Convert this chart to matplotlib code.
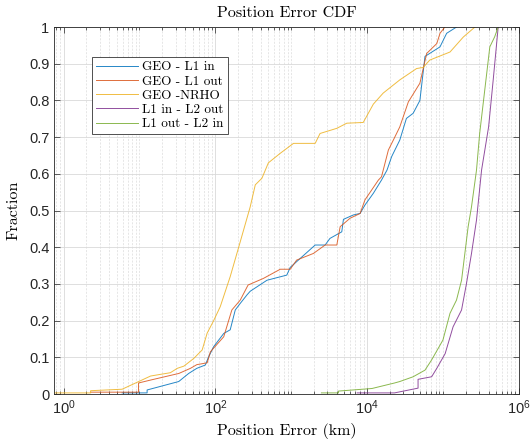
import matplotlib
matplotlib.use("Agg")
import matplotlib.pyplot as plt
from matplotlib.ticker import LogLocator, FixedLocator, NullFormatter
import numpy as np

# courbes CDF (erreur en km, fraction)
geo_l1in_x = [5.9, 12.6, 12.6, 32.9, 44.5, 57, 73.8, 81, 95, 129, 157, 183, 213, 261,
              288, 479, 874, 970, 2069, 2800, 3240, 4640, 4880, 6610, 8090, 9380, 12100,
              15500, 18300, 21100, 27000, 33000, 40500, 49700, 58000, 91500, 112000, 151000]
geo_l1in_y = [0.003, 0.003, 0.011, 0.034, 0.056, 0.07, 0.079, 0.10, 0.129, 0.165, 0.175,
              0.229, 0.247, 0.27, 0.28, 0.31, 0.324, 0.345, 0.406, 0.406, 0.424, 0.442,
              0.476, 0.488, 0.492, 0.515, 0.547, 0.583, 0.61, 0.647, 0.692, 0.751, 0.765,
              0.80, 0.92, 0.946, 0.983, 1.0]

geo_l1out_x = [2.27, 9.7, 9.7, 14, 33, 47, 57, 78, 86, 129, 165, 213, 270, 430, 717, 970,
               1180, 1960, 2800, 3990, 4420, 5970, 8090, 9380, 14100, 15500, 19100, 22200,
               27000, 35000, 49700, 61000, 83000, 91500, 106000]
geo_l1out_y = [0.005, 0.005, 0.03, 0.038, 0.056, 0.07, 0.08, 0.085, 0.115, 0.156, 0.229,
               0.256, 0.297, 0.315, 0.34, 0.34, 0.365, 0.383, 0.406, 0.406, 0.456, 0.479,
               0.492, 0.529, 0.583, 0.592, 0.665, 0.692, 0.728, 0.796, 0.847, 0.928, 0.955,
               0.983, 1.0]

geo_nrho_x = [0.75, 2.27, 2.27, 5.9, 14, 25.5, 31.5, 38.5, 52, 67, 78, 95, 116, 157, 203,
              288, 336, 411, 500, 717, 870, 1070, 2070, 2400, 3990, 5400, 8900, 12100,
              16300, 27000, 45000, 55000, 67000, 124000, 186000, 264000]
geo_nrho_y = [0.003, 0.003, 0.009, 0.013, 0.049, 0.058, 0.07, 0.076, 0.097, 0.12, 0.166,
              0.20, 0.238, 0.32, 0.40, 0.51, 0.57, 0.588, 0.63, 0.656, 0.669, 0.683, 0.683,
              0.71, 0.724, 0.738, 0.74, 0.79, 0.82, 0.856, 0.887, 0.89, 0.91, 0.932, 0.973,
              1.0]

l1in_l2out_x = [7400, 23000, 47000, 47000, 71000, 83000, 107000, 136000, 176000, 204000,
                238000, 277000, 323000, 400000, 460000, 535000]
l1in_l2out_y = [0.003, 0.003, 0.016, 0.04, 0.047, 0.07, 0.11, 0.183, 0.229, 0.30, 0.383,
                0.474, 0.61, 0.728, 0.856, 1.0]

l1out_l2in_x = [2500, 4200, 4200, 11600, 23000, 27000, 40500, 58000, 71000, 87000, 100000,
                124000, 151000, 176000, 215000, 238000, 277000, 305000, 360000, 415000,
                480000, 535000]
l1out_l2in_y = [0.003, 0.003, 0.008, 0.015, 0.03, 0.034, 0.047, 0.065, 0.093, 0.125, 0.147,
                0.22, 0.256, 0.31, 0.456, 0.51, 0.61, 0.71, 0.837, 0.946, 0.973, 1.0]

series = [
    ("GEO - L1 in", geo_l1in_x, geo_l1in_y, "#0072BD"),
    ("GEO - L1 out", geo_l1out_x, geo_l1out_y, "#D95319"),
    ("GEO -NRHO", geo_nrho_x, geo_nrho_y, "#EDB120"),
    ("L1 in - L2 out", l1in_l2out_x, l1in_l2out_y, "#7E2F8E"),
    ("L1 out - L2 in", l1out_l2in_x, l1out_l2in_y, "#77AC30"),
]

# style proche de matlab
plt.rcParams["mathtext.fontset"] = "custom"
plt.rcParams["mathtext.rm"] = "Liberation Sans"
plt.rcParams["font.family"] = ["Liberation Sans", "DejaVu Sans"]
serif = "cmr10"
axcol = "#262626"

fig = plt.figure(figsize=(5.31, 4.45), dpi=100)
ax = fig.add_axes([0.102, 0.1146, 0.875, 0.8246])

for nom, xs, ys, c in series:
    ax.plot(xs, ys, color=c, lw=0.7, alpha=0.85, label=nom)

ax.set_xscale("log")
ax.set_xlim(0.75, 1e6)
ax.set_ylim(0, 1)

ax.xaxis.set_major_locator(FixedLocator([1, 1e2, 1e4, 1e6]))
ax.xaxis.set_minor_locator(LogLocator(base=10, subs=np.arange(1, 10), numticks=20))
ax.xaxis.set_minor_formatter(NullFormatter())
ax.set_yticks(np.arange(0, 1.01, 0.1))
ax.set_yticklabels(["0", "0.1", "0.2", "0.3", "0.4", "0.5", "0.6", "0.7", "0.8", "0.9", "1"])

ax.grid(True, which="major", color="#d9d9d9", lw=0.6)
ax.grid(True, which="minor", axis="x", color="#dcdcdc", lw=0.5, ls=(0, (3, 2)))
ax.set_axisbelow(True)

ax.tick_params(which="both", direction="in", top=True, right=True, colors=axcol,
               labelsize=10.5, width=0.5)
ax.tick_params(which="major", length=4)
ax.tick_params(which="minor", length=2)
for s in ax.spines.values():
    s.set_color(axcol)
    s.set_linewidth(0.6)

ax.set_title("Position Error CDF", fontfamily=serif, fontsize=11.5, color="black", pad=7)
ax.set_xlabel("Position Error (km)", fontfamily=serif, fontsize=11.5, labelpad=4)
ax.set_ylabel("Fraction", fontfamily=serif, fontsize=11.5, labelpad=6)

leg = ax.legend(loc="upper left", bbox_to_anchor=(0.082, 0.918), prop={"family": serif, "size": 9.5},
                fancybox=False, framealpha=1, edgecolor="#333333", handlelength=3.2,
                handletextpad=0.3, labelspacing=0.15, borderpad=0.3, borderaxespad=0)
leg.get_frame().set_linewidth(0.6)

fig.savefig("out.png", dpi=100)
